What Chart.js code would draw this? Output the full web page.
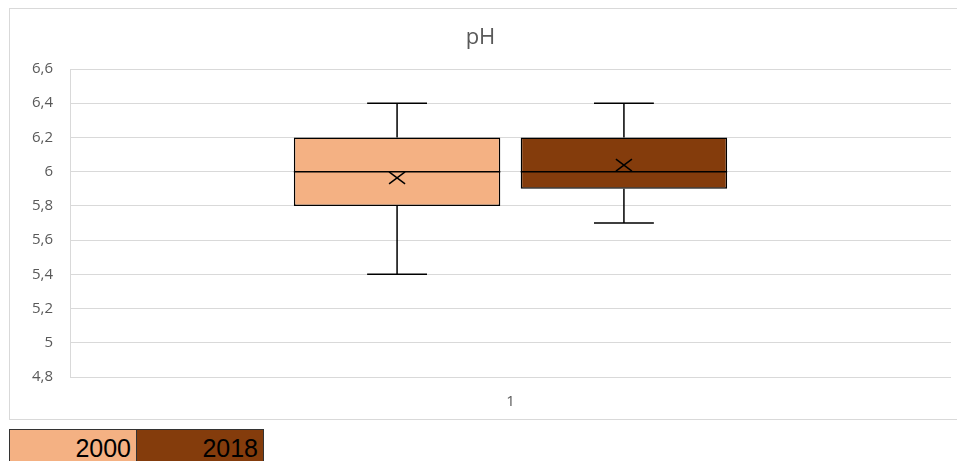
<!DOCTYPE html>
<html>
<head>
<meta charset="utf-8">
<script src="https://cdn.jsdelivr.net/npm/chart.js@4.4.0/dist/chart.umd.min.js"></script>
<style>
  body { margin: 0; overflow: hidden; background: #fff; width: 957px; height: 461px; position: relative; }
  #box { position: absolute; left: 9px; top: 8px; width: 958px; height: 412px; border: 1px solid #d9d9d9; box-sizing: border-box; }
  .leg { position: absolute; top: 429px; height: 40px; box-sizing: border-box; border: 1px solid #333;
         font-family: "Liberation Sans", Arial, sans-serif; font-size: 25px; color: #000; text-align: right;
         padding-right: 5px; line-height: 36px; }
</style>
</head>
<body>
<div id="box"><canvas id="myChart"></canvas></div>
<div class="leg" style="left:9px;width:128px;background:#F4B183;">2000</div>
<div class="leg" style="left:136px;width:128px;background:#843C0C;">2018</div>
<script>
// box plot values
var categorias = ['1'];
var series = ['2000', '2018'];
var minimos = [5.4, 5.7];
var quartil1 = [5.8, 5.9];
var medianas = [6.0, 6.0];
var quartil3 = [6.2, 6.2];
var maximos = [6.4, 6.4];
var medias = [5.964, 6.038];
var cores = ['#F4B183', '#843C0C'];

// whiskers, median and mean drawn on top of the floating bars
var bigodes = {
    id: 'bigodes',
    afterDatasetsDraw: function(chart){
        var ctx = chart.ctx;
        var y = chart.scales.y;
        ctx.save();
        ctx.strokeStyle = '#000';
        ctx.lineWidth = 1.5;
        for (var i = 0; i < series.length; i++){
            var bar = chart.getDatasetMeta(i).data[0];
            var x = bar.x;
            var w = bar.width;
            var cap = w * 0.145;
            ctx.beginPath();
            // upper whisker
            ctx.moveTo(x, y.getPixelForValue(quartil3[i]));
            ctx.lineTo(x, y.getPixelForValue(maximos[i]));
            ctx.moveTo(x - cap, y.getPixelForValue(maximos[i]));
            ctx.lineTo(x + cap, y.getPixelForValue(maximos[i]));
            // lower whisker
            ctx.moveTo(x, y.getPixelForValue(quartil1[i]));
            ctx.lineTo(x, y.getPixelForValue(minimos[i]));
            ctx.moveTo(x - cap, y.getPixelForValue(minimos[i]));
            ctx.lineTo(x + cap, y.getPixelForValue(minimos[i]));
            // median
            ctx.moveTo(x - w / 2, y.getPixelForValue(medianas[i]));
            ctx.lineTo(x + w / 2, y.getPixelForValue(medianas[i]));
            ctx.stroke();
            // mean marker
            var my = y.getPixelForValue(medias[i]);
            var s = 8;
            ctx.beginPath();
            ctx.moveTo(x - s, my - s * 0.75);
            ctx.lineTo(x + s, my + s * 0.75);
            ctx.moveTo(x + s, my - s * 0.75);
            ctx.lineTo(x - s, my + s * 0.75);
            ctx.stroke();
        }
        ctx.restore();
    }
};

var datasets = [];
for (var i = 0; i < series.length; i++){
    datasets.push({
        label: series[i],
        data: [[quartil1[i], quartil3[i]]],
        backgroundColor: cores[i],
        borderColor: '#000',
        borderWidth: 1.5,
        borderSkipped: false,
        categoryPercentage: 0.515,
        barPercentage: 0.91
    });
}

var ctx = document.getElementById('myChart').getContext('2d');
var chart = new Chart(ctx, {
    type: 'bar',
    data: {
        labels: categorias,
        datasets: datasets
    },
    plugins: [bigodes],
    options: {
        responsive: true,
        maintainAspectRatio: false,
        animation: false,
        layout: {
            padding: { top: 16, right: 15, bottom: 0, left: 0 }
        },
        plugins: {
            legend: { display: false },
            tooltip: { enabled: false },
            title: {
                display: true,
                text: 'pH',
                color: '#595959',
                font: { family: 'Open Sans', size: 22, weight: 'normal' },
                padding: { top: 0, bottom: 17.6 }
            }
        },
        scales: {
            x: {
                grid: { display: false, drawTicks: false },
                border: { display: false },
                afterFit: function(scale){ scale.height = 42; },
                ticks: {
                    color: '#595959',
                    font: { family: 'Open Sans', size: 15 },
                    padding: 16
                }
            },
            y: {
                min: 4.8,
                max: 6.6,
                grid: { color: '#d9d9d9', lineWidth: 1, drawTicks: false },
                border: { display: true, color: '#d9d9d9' },
                afterFit: function(scale){ scale.width = 60; },
                ticks: {
                    stepSize: 0.2,
                    color: '#595959',
                    font: { family: 'Open Sans', size: 15 },
                    padding: 17,
                    callback: function(value){
                        return String(Number(value.toFixed(1))).replace('.', ',');
                    }
                }
            }
        }
    }
});
</script>
</body>
</html>
